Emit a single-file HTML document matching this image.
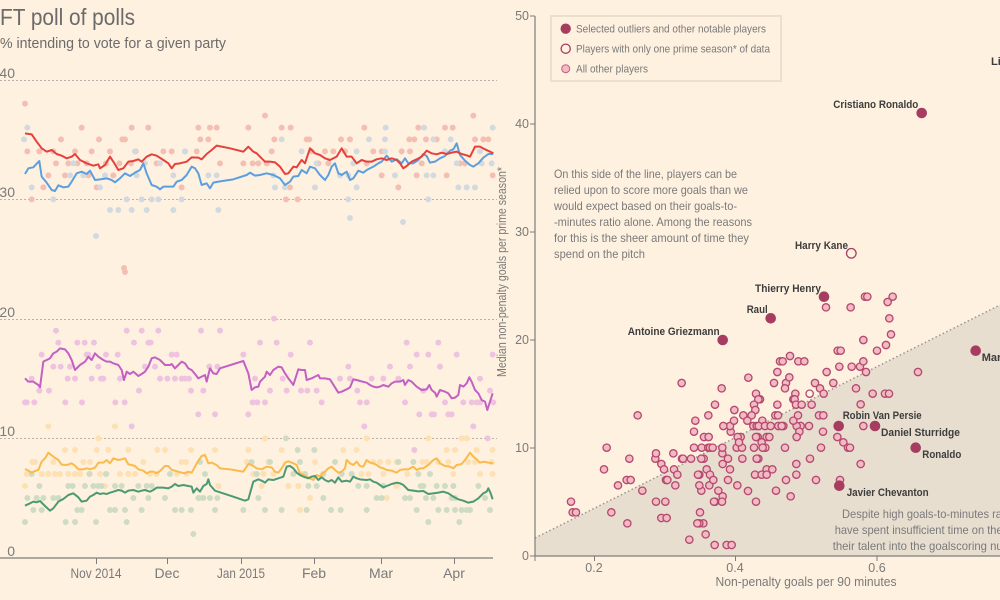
<!DOCTYPE html>
<html><head><meta charset="utf-8"><style>
html,body{margin:0;padding:0;background:#fff1e0;}
svg{display:block;font-family:"Liberation Sans",sans-serif;}
.g{fill:#7a7a7a;}
.lb{font-weight:bold;fill:#3d3d3d;font-size:11px;}
.sc circle{fill:#f2bac4;stroke:#b44a6c;stroke-width:4;}
.nt{fill:#a63c60;}
</style></head><body>
<svg width="1000" height="600" viewBox="0 0 1000 600" xmlns="http://www.w3.org/2000/svg">
<rect width="1000" height="600" fill="#fff1e0"/>

<!-- ============ LEFT CHART ============ -->
<text x="0" y="25" font-size="23" fill="#6b6b6b" textLength="135" lengthAdjust="spacingAndGlyphs">FT poll of polls</text>
<text x="0" y="48" font-size="15" fill="#6b6b6b" textLength="226" lengthAdjust="spacingAndGlyphs">% intending to vote for a given party</text>

<g stroke="#b9b2a8" stroke-width="1" stroke-dasharray="2,2">
<line x1="0" y1="80.5" x2="497" y2="80.5"/>
<line x1="0" y1="199.5" x2="497" y2="199.5"/>
<line x1="0" y1="319.5" x2="497" y2="319.5"/>
<line x1="0" y1="438.5" x2="497" y2="438.5"/>
</g>
<g class="g" font-size="14" text-anchor="end">
<text x="15" y="78">40</text>
<text x="15" y="197">30</text>
<text x="15" y="317">20</text>
<text x="15" y="436">10</text>
<text x="15" y="556">0</text>
</g>

<!-- dots: zoom1 coords -->
<g transform="scale(0.33333)" fill="none" stroke-linecap="round" stroke-width="18">
<path stroke="#f5beb3" d="M75 311h0M795 347h0M1420 347h0M245 383h0M395 383h0M445 383h0M595 383h0M630 383h0M650 383h0M745 383h0M845 383h0M872 383h0M1093 383h0M1255 383h0M1335 383h0M1358 383h0M183 418h0M297 418h0M367 418h0M375 418h0M601 418h0M625 418h0M823 418h0M920 418h0M928 418h0M1023 418h0M1050 418h0M1228 418h0M1243 418h0M1278 418h0M1310 418h0M1425 418h0M1450 418h0M1465 418h0M82 454h0M118 454h0M160 454h0M225 454h0M275 454h0M330 454h0M407 454h0M490 454h0M515 454h0M555 454h0M590 454h0M815 454h0M935 454h0M975 454h0M1000 454h0M1035 454h0M1120 454h0M1145 454h0M1205 454h0M1230 454h0M168 490h0M205 490h0M232 490h0M260 490h0M318 490h0M358 490h0M393 490h0M470 490h0M660 490h0M730 490h0M758 490h0M775 490h0M800 490h0M955 490h0M985 490h0M1100 490h0M1265 490h0M1380 490h0M1395 490h0M145 526h0M195 526h0M265 526h0M340 526h0M1145 526h0M1250 526h0M1340 526h0M1478 526h0M130 562h0M290 562h0M545 562h0M870 562h0M1195 562h0M95 598h0M858 598h0M893 598h0M372 804h0M375 816h0"/>
<path stroke="#d2dae0" d="M82 383h0M1157 383h0M1272 383h0M1478 383h0M72 418h0M845 418h0M1107 418h0M1155 418h0M1300 418h0M1352 418h0M405 454h0M555 454h0M905 454h0M1070 454h0M1155 454h0M1335 454h0M1440 454h0M220 490h0M435 490h0M480 490h0M950 490h0M1060 490h0M1370 490h0M1445 490h0M1475 490h0M210 526h0M250 526h0M315 526h0M410 526h0M520 526h0M625 526h0M650 526h0M820 526h0M1020 526h0M1045 526h0M1185 526h0M1280 526h0M1300 526h0M95 562h0M300 562h0M825 562h0M855 562h0M945 562h0M1070 562h0M1375 562h0M1400 562h0M1425 562h0M160 598h0M380 598h0M425 598h0M455 598h0M475 598h0M545 598h0M1045 598h0M1285 598h0M330 630h0M355 630h0M395 630h0M440 630h0M520 630h0M655 630h0M288 708h0M1050 654h0M1209 666h0"/>
</g>
<!-- dots: zoom2 coords -->
<g transform="translate(0,300) scale(0.33333)" fill="none" stroke-linecap="round" stroke-width="18">
<path stroke="#eec3df" d="M822 56h0M168 92h0M380 92h0M425 92h0M475 92h0M603 92h0M660 92h0M175 128h0M232 128h0M254 128h0M282 128h0M402 128h0M445 128h0M452 128h0M780 128h0M830 128h0M930 128h0M1220 128h0M1315 128h0M125 164h0M260 164h0M265 164h0M318 164h0M353 164h0M515 164h0M530 164h0M730 164h0M872 164h0M1250 164h0M1285 164h0M1370 164h0M1478 164h0M160 200h0M182 200h0M210 200h0M295 200h0M435 200h0M465 200h0M628 200h0M652 200h0M1045 200h0M1170 200h0M1230 200h0M1320 200h0M95 236h0M203 236h0M225 236h0M275 236h0M303 236h0M310 236h0M360 236h0M480 236h0M502 236h0M525 236h0M545 236h0M555 236h0M567 236h0M765 236h0M848 236h0M1020 236h0M1050 236h0M1115 236h0M1150 236h0M1195 236h0M1440 236h0M118 272h0M147 272h0M417 272h0M573 272h0M610 272h0M810 272h0M860 272h0M903 272h0M922 272h0M950 272h0M1072 272h0M1270 272h0M1470 272h0M75 307h0M80 307h0M103 307h0M196 307h0M246 307h0M346 307h0M374 307h0M758 307h0M772 307h0M795 307h0M965 307h0M1080 307h0M1100 307h0M1215 307h0M1335 307h0M1390 307h0M1415 307h0M1430 307h0M1440 307h0M1480 307h0M595 343h0M645 343h0M745 343h0M1258 343h0M1295 343h0M1302 343h0M1345 343h0M1355 343h0M395 379h0M1093 379h0M1420 379h0M1463 415h0M1243 450h0"/>
<path stroke="#fde0b3" d="M145 379h0M345 379h0M295 415h0M795 415h0M1100 415h0M1285 415h0M1385 415h0M1400 415h0M195 450h0M225 450h0M290 450h0M325 450h0M385 450h0M472 450h0M495 450h0M573 450h0M645 450h0M745 450h0M845 450h0M1030 450h0M1070 450h0M1340 450h0M1365 450h0M1430 450h0M1478 450h0M97 486h0M105 486h0M160 486h0M250 486h0M270 486h0M430 486h0M545 486h0M558 486h0M740 486h0M805 486h0M945 486h0M1120 486h0M1140 486h0M1165 486h0M1190 486h0M1268 486h0M1280 486h0M1315 486h0M1345 486h0M1405 486h0M1425 486h0M1475 486h0M80 522h0M125 522h0M145 522h0M165 522h0M180 522h0M205 522h0M225 522h0M240 522h0M270 522h0M300 522h0M320 522h0M360 522h0M385 522h0M405 522h0M450 522h0M470 522h0M530 522h0M560 522h0M760 522h0M790 522h0M820 522h0M905 522h0M1055 522h0M1085 522h0M1105 522h0M1150 522h0M1222 522h0M1360 522h0M1440 522h0M1478 522h0M75 558h0M315 558h0M455 558h0M655 558h0M785 558h0M865 558h0M895 558h0M1190 558h0M600 594h0M930 594h0M1160 594h0M900 630h0"/>
<path stroke="#cfdcc4" d="M858 415h0M893 450h0M943 450h0M600 486h0M755 486h0M810 486h0M900 486h0M1005 486h0M1195 486h0M1240 486h0M95 522h0M268 522h0M318 522h0M510 522h0M615 522h0M770 522h0M880 522h0M915 522h0M970 522h0M1025 522h0M1055 522h0M1255 522h0M1290 522h0M118 558h0M205 558h0M218 558h0M255 558h0M280 558h0M295 558h0M305 558h0M345 558h0M365 558h0M415 558h0M440 558h0M455 558h0M925 558h0M950 558h0M1075 558h0M1100 558h0M1150 558h0M1262 558h0M1270 558h0M1310 558h0M1335 558h0M1360 558h0M1435 558h0M82 594h0M110 594h0M130 594h0M160 594h0M175 594h0M400 594h0M445 594h0M495 594h0M595 594h0M610 594h0M630 594h0M652 594h0M775 594h0M970 594h0M1130 594h0M1145 594h0M1215 594h0M1230 594h0M1278 594h0M1300 594h0M1355 594h0M1365 594h0M1455 594h0M100 630h0M125 630h0M232 630h0M245 630h0M330 630h0M345 630h0M375 630h0M425 630h0M525 630h0M545 630h0M573 630h0M645 630h0M730 630h0M795 630h0M845 630h0M920 630h0M993 630h0M1022 630h0M1100 630h0M1250 630h0M1315 630h0M1340 630h0M1365 630h0M1385 630h0M1400 630h0M1410 630h0M1470 630h0M75 666h0M197 666h0M225 666h0M288 666h0M380 666h0M1285 666h0M1378 666h0M580 702h0"/>
</g>

<!-- lines zoom1 -->
<g transform="scale(0.33333)" fill="none" stroke-width="6" stroke-linejoin="round">
<polyline stroke="#5b9fe0" points="75,522 85,505 100,502 118,483 125,530 140,548 155,570 165,573 175,556 190,562 205,560 215,545 230,520 245,515 260,522 270,512 285,540 300,538 320,535 335,540 345,547 360,535 375,520 390,528 405,518 420,510 430,490 440,520 455,555 470,560 480,568 490,560 505,560 520,560 530,545 545,540 560,525 575,500 585,505 595,520 605,555 620,550 630,565 640,548 655,545 700,538 740,525 750,518 765,527 780,525 800,520 820,525 840,535 855,555 870,545 880,530 895,528 905,510 920,520 930,500 945,505 960,525 975,540 985,525 995,500 1005,490 1015,520 1025,525 1040,515 1050,540 1060,535 1075,512 1090,518 1100,510 1120,500 1135,490 1145,485 1160,467 1175,485 1190,478 1205,490 1215,475 1225,490 1240,490 1255,480 1270,462 1280,468 1290,488 1305,485 1320,475 1335,468 1350,452 1360,448 1370,430 1380,465 1395,482 1410,495 1420,500 1435,490 1450,473 1465,462 1480,462"/>
<polyline stroke="#e5403c" points="75,400 95,403 110,425 125,445 140,455 155,450 170,462 185,467 200,475 215,470 225,462 240,480 260,490 280,497 295,493 300,505 315,495 330,470 340,485 355,510 370,505 385,485 400,483 415,478 425,485 440,470 455,463 470,467 490,480 505,490 515,505 525,492 540,490 560,485 575,472 595,473 605,478 620,462 635,450 650,437 690,445 730,455 745,440 760,455 770,460 780,470 795,485 810,485 825,487 840,500 855,522 865,520 880,500 890,502 905,480 915,490 930,445 945,460 960,465 975,475 990,480 1010,470 1025,445 1040,470 1055,470 1070,490 1085,480 1100,485 1115,485 1130,478 1145,475 1160,480 1175,475 1190,480 1200,490 1210,505 1220,498 1235,485 1250,478 1265,470 1280,452 1295,460 1310,463 1325,458 1340,462 1355,458 1370,455 1385,462 1400,466 1410,470 1425,440 1440,440 1455,448 1470,455 1480,460"/>
</g>
<!-- lines zoom2 -->
<g transform="translate(0,300) scale(0.33333)" fill="none" stroke-width="6" stroke-linejoin="round">
<polyline stroke="#c45fc4" points="75,235 85,245 100,245 115,255 120,262 130,185 140,180 150,175 160,160 170,155 180,145 195,148 205,160 215,180 225,210 240,195 255,185 265,170 275,180 285,160 295,170 310,180 320,185 330,185 340,190 355,195 365,210 372,240 380,215 390,222 400,215 415,228 425,222 435,215 445,200 455,175 465,172 480,180 495,195 510,195 515,192 525,205 535,195 545,185 555,190 565,205 575,210 585,222 595,235 605,230 615,225 620,245 630,205 640,220 650,222 660,205 730,183 745,220 755,270 765,262 775,260 780,245 795,230 800,215 810,225 820,210 835,200 845,202 855,220 865,235 875,248 880,255 895,208 905,210 915,210 920,240 935,235 945,230 955,225 960,235 975,235 990,238 1005,262 1015,278 1025,275 1040,268 1050,262 1060,238 1070,240 1080,243 1100,248 1110,255 1120,260 1130,262 1140,260 1150,255 1165,260 1175,250 1185,245 1200,245 1210,240 1215,255 1225,240 1235,245 1250,260 1265,270 1280,268 1288,255 1295,270 1305,278 1310,290 1320,270 1335,275 1345,280 1355,295 1365,293 1375,285 1380,255 1390,260 1400,250 1408,232 1415,245 1425,270 1435,280 1445,300 1455,305 1462,330 1470,305 1478,280"/>
<polyline stroke="#fbba4c" points="75,507 85,512 95,518 105,513 115,510 125,485 135,475 145,458 160,470 175,480 185,494 200,495 215,490 225,497 235,508 250,508 260,505 270,508 285,503 295,488 310,488 320,480 330,490 340,475 355,480 365,478 375,475 385,493 395,495 405,498 415,508 430,512 440,520 450,515 460,515 470,520 480,513 495,498 505,498 515,510 525,512 535,515 545,518 555,520 565,515 575,518 585,500 595,482 605,468 615,465 625,490 635,488 650,495 660,505 690,508 730,515 745,492 755,495 770,505 785,508 800,500 815,502 825,515 835,518 845,505 855,488 865,484 880,490 890,495 900,520 910,525 920,530 930,535 940,540 950,525 960,530 965,522 975,515 985,505 995,500 1005,510 1015,518 1025,515 1035,505 1040,480 1050,490 1060,495 1070,485 1080,498 1090,500 1100,480 1110,488 1120,490 1130,495 1140,502 1150,505 1160,510 1175,512 1190,518 1200,510 1210,508 1225,508 1240,500 1250,510 1260,505 1270,505 1285,495 1300,480 1310,475 1320,490 1335,498 1350,500 1360,505 1370,495 1385,492 1395,480 1410,458 1420,470 1430,478 1440,488 1450,485 1465,488 1480,490"/>
<polyline stroke="#4b9a72" points="75,617 90,610 100,605 110,607 120,603 135,618 150,632 160,625 175,605 190,597 205,585 220,580 235,592 245,605 260,602 270,590 280,585 290,578 300,582 310,580 320,582 330,578 340,575 355,570 365,572 375,578 385,572 400,570 415,575 425,572 435,570 450,575 460,570 470,563 490,563 505,565 515,560 525,552 535,558 550,555 565,558 575,560 580,578 590,565 600,575 610,558 620,552 625,538 630,555 645,572 660,577 700,590 735,602 745,598 760,545 775,538 785,542 795,548 805,538 820,540 835,535 850,530 860,500 870,498 880,505 890,518 900,525 910,530 925,535 935,530 945,528 955,540 965,532 975,540 985,545 995,540 1005,548 1015,532 1025,545 1040,542 1050,545 1060,530 1070,535 1080,538 1100,540 1110,538 1120,545 1130,548 1140,555 1150,562 1160,558 1175,552 1190,548 1200,550 1210,555 1225,570 1240,572 1255,574 1270,573 1285,582 1300,580 1315,578 1330,575 1345,580 1360,590 1375,598 1390,602 1405,608 1420,605 1435,595 1450,580 1460,575 1465,565 1472,580 1478,598"/>
</g>

<line x1="0" y1="558" x2="493" y2="558" stroke="#7d7d7d" stroke-width="1.2"/>
<g stroke="#7d7d7d" stroke-width="1">
<line x1="96.5" y1="558" x2="96.5" y2="564"/><line x1="167.5" y1="558" x2="167.5" y2="564"/><line x1="241.5" y1="558" x2="241.5" y2="564"/><line x1="314.5" y1="558" x2="314.5" y2="564"/><line x1="381.5" y1="558" x2="381.5" y2="564"/><line x1="454.5" y1="558" x2="454.5" y2="564"/>
</g>
<g class="g" font-size="14" text-anchor="middle">
<text x="96" y="578" textLength="51" lengthAdjust="spacingAndGlyphs">Nov 2014</text>
<text x="167" y="578">Dec</text>
<text x="241" y="578" textLength="48" lengthAdjust="spacingAndGlyphs">Jan 2015</text>
<text x="314" y="578">Feb</text>
<text x="381" y="578">Mar</text>
<text x="454" y="578">Apr</text>
</g>

<!-- ============ RIGHT CHART ============ -->
<polygon points="535,538 1000,305 1000,556 535,556" fill="#e8ded0"/>
<line x1="535" y1="538" x2="1000" y2="305" stroke="#9c968e" stroke-width="1.5" stroke-dasharray="1.5,2.5"/>

<text transform="translate(506,272) rotate(-90)" font-size="12.5" class="g" text-anchor="middle" textLength="210" lengthAdjust="spacingAndGlyphs">Median non-penalty goals per prime season*</text>

<line x1="535" y1="16" x2="535" y2="556" stroke="#7d7d7d" stroke-width="1.2"/>
<line x1="535" y1="556" x2="1000" y2="556" stroke="#7d7d7d" stroke-width="1.2"/>
<g stroke="#7d7d7d" stroke-width="1">
<line x1="530" y1="16" x2="535" y2="16"/><line x1="530" y1="124" x2="535" y2="124"/><line x1="530" y1="232" x2="535" y2="232"/><line x1="530" y1="340" x2="535" y2="340"/><line x1="530" y1="448" x2="535" y2="448"/><line x1="530" y1="556" x2="535" y2="556"/>
<line x1="535" y1="556" x2="535" y2="561"/><line x1="594.5" y1="556" x2="594.5" y2="561"/><line x1="735.5" y1="556" x2="735.5" y2="561"/><line x1="877" y1="556" x2="877" y2="561"/>
</g>
<g class="g" font-size="12.5" text-anchor="end">
<text x="529" y="20">50</text><text x="529" y="128">40</text><text x="529" y="236">30</text><text x="529" y="344">20</text><text x="529" y="452">10</text><text x="529" y="560">0</text>
</g>
<g class="g" font-size="12.5" text-anchor="middle">
<text x="594" y="572">0.2</text><text x="735" y="572">0.4</text><text x="877" y="572">0.6</text>
</g>
<text x="806" y="586" class="g" font-size="12.5" text-anchor="middle" textLength="181" lengthAdjust="spacingAndGlyphs">Non-penalty goals per 90 minutes</text>

<!-- legend -->
<rect x="551" y="16" width="230" height="65" fill="none" stroke="#ebdfcd" stroke-width="2"/>
<circle cx="565.7" cy="28.7" r="5.2" class="nt"/>
<circle cx="565.7" cy="48.7" r="4.6" fill="#fff1e0" stroke="#a63c60" stroke-width="1.3"/>
<circle cx="565.7" cy="68.7" r="4" fill="#f2bac4" stroke="#c0607e" stroke-width="1"/>
<g class="g" font-size="11">
<text x="576" y="32.5" textLength="190" lengthAdjust="spacingAndGlyphs">Selected outliers and other notable players</text>
<text x="576" y="52.5" textLength="194" lengthAdjust="spacingAndGlyphs">Players with only one prime season* of data</text>
<text x="576" y="72.5" textLength="72" lengthAdjust="spacingAndGlyphs">All other players</text>
</g>

<!-- annotations -->
<g class="g" font-size="12">
<text x="554" y="178" textLength="183" lengthAdjust="spacingAndGlyphs">On this side of the line, players can be</text>
<text x="554" y="194" textLength="194" lengthAdjust="spacingAndGlyphs">relied upon to score more goals than we</text>
<text x="554" y="210" textLength="183" lengthAdjust="spacingAndGlyphs">would expect based on their goals-to-</text>
<text x="554" y="226" textLength="198" lengthAdjust="spacingAndGlyphs">-minutes ratio alone. Among the reasons</text>
<text x="554" y="242" textLength="195" lengthAdjust="spacingAndGlyphs">for this is the sheer amount of time they</text>
<text x="554" y="258" textLength="91" lengthAdjust="spacingAndGlyphs">spend on the pitch</text>
<text x="842" y="518" textLength="160" lengthAdjust="spacingAndGlyphs">Despite high goals-to-minutes ra</text>
<text x="834.7" y="534" textLength="168" lengthAdjust="spacingAndGlyphs">have spent insufficient time on the</text>
<text x="832.7" y="550" textLength="170" lengthAdjust="spacingAndGlyphs">their talent into the goalscoring nu</text>
</g>

<!-- scatter (zoom4 coords) -->
<g class="sc" transform="translate(500,290) scale(0.33333)">
<circle cx="1095" cy="20" r="11"/><circle cx="1102" cy="20" r="11"/><circle cx="1178" cy="20" r="11"/><circle cx="1163" cy="36" r="11"/><circle cx="978" cy="52" r="11"/><circle cx="1052" cy="52" r="11"/><circle cx="1168" cy="85" r="11"/><circle cx="1173" cy="133" r="11"/><circle cx="1090" cy="150" r="11"/><circle cx="1158" cy="165" r="11"/><circle cx="1131" cy="182" r="11"/><circle cx="1013" cy="182" r="11"/><circle cx="1022" cy="182" r="11"/><circle cx="1018" cy="230" r="11"/><circle cx="1055" cy="230" r="11"/><circle cx="1080" cy="230" r="11"/><circle cx="1090" cy="214" r="11"/><circle cx="1098" cy="246" r="11"/><circle cx="980" cy="246" r="11"/><circle cx="1000" cy="279" r="11"/><circle cx="945" cy="279" r="11"/><circle cx="960" cy="295" r="11"/><circle cx="971" cy="311" r="11"/><circle cx="929" cy="311" r="11" style="fill:#fff5ec"/><circle cx="1068" cy="295" r="11"/><circle cx="1118" cy="311" r="11"/><circle cx="1155" cy="311" r="11"/><circle cx="1167" cy="311" r="11"/><circle cx="1254" cy="246" r="11"/><circle cx="1082" cy="343" r="11"/><circle cx="957" cy="376" r="11"/><circle cx="970" cy="376" r="11"/><circle cx="1090" cy="408" r="11"/><circle cx="1012" cy="441" r="11"/><circle cx="1030" cy="457" r="11"/><circle cx="1044" cy="473" r="11"/><circle cx="1050" cy="473" r="11"/><circle cx="969" cy="425" r="11"/><circle cx="963" cy="473" r="11"/><circle cx="1082" cy="522" r="11"/><circle cx="1020" cy="570" r="11"/><circle cx="948" cy="570" r="11"/>
<circle cx="870" cy="198" r="11"/><circle cx="840" cy="214" r="11"/><circle cx="848" cy="214" r="11"/><circle cx="895" cy="214" r="11"/><circle cx="913" cy="214" r="11"/><circle cx="745" cy="263" r="11"/><circle cx="832" cy="246" r="11"/><circle cx="858" cy="279" r="11"/><circle cx="822" cy="279" r="11"/><circle cx="855" cy="295" r="11"/><circle cx="868" cy="262" r="11"/><circle cx="768" cy="311" r="11"/><circle cx="780" cy="328" r="11"/><circle cx="775" cy="328" r="11"/><circle cx="886" cy="311" r="11"/><circle cx="880" cy="328" r="11"/><circle cx="884" cy="328" r="11"/><circle cx="888" cy="344" r="11"/><circle cx="905" cy="344" r="11"/><circle cx="935" cy="344" r="11"/><circle cx="832" cy="344" r="11"/><circle cx="762" cy="344" r="11"/><circle cx="766" cy="360" r="11"/><circle cx="703" cy="360" r="11"/><circle cx="645" cy="344" r="11"/><circle cx="625" cy="376" r="11"/><circle cx="586" cy="392" r="11"/><circle cx="582" cy="425" r="11"/><circle cx="545" cy="279" r="11"/><circle cx="665" cy="295" r="11"/><circle cx="413" cy="376" r="11"/><circle cx="320" cy="473" r="11"/><circle cx="312" cy="538" r="11"/><circle cx="388" cy="506" r="11"/><circle cx="354" cy="586" r="11"/><circle cx="380" cy="570" r="11"/><circle cx="392" cy="570" r="11"/><circle cx="427" cy="602" r="11"/><circle cx="466" cy="506" r="11"/><circle cx="468" cy="490" r="11"/><circle cx="484" cy="522" r="11"/><circle cx="492" cy="538" r="11"/><circle cx="520" cy="490" r="11"/><circle cx="522" cy="538" r="11"/><circle cx="532" cy="554" r="11"/><circle cx="546" cy="506" r="11"/><circle cx="573" cy="506" r="11"/><circle cx="549" cy="506" r="11"/><circle cx="498" cy="570" r="11"/><circle cx="502" cy="570" r="11"/><circle cx="526" cy="586" r="11"/><circle cx="468" cy="635" r="11"/><circle cx="496" cy="635" r="11"/><circle cx="484" cy="684" r="11"/><circle cx="500" cy="684" r="11"/><circle cx="382" cy="700" r="11"/><circle cx="334" cy="667" r="11"/><circle cx="213" cy="635" r="11"/><circle cx="218" cy="667" r="11"/><circle cx="228" cy="667" r="11"/>
<circle cx="582" cy="473" r="11"/><circle cx="605" cy="473" r="11"/><circle cx="612" cy="441" r="11"/><circle cx="626" cy="441" r="11"/><circle cx="625" cy="473" r="11"/><circle cx="630" cy="473" r="11"/><circle cx="638" cy="473" r="11"/><circle cx="611" cy="506" r="11"/><circle cx="604" cy="506" r="11"/><circle cx="620" cy="538" r="11"/><circle cx="598" cy="554" r="11"/><circle cx="594" cy="554" r="11"/><circle cx="630" cy="554" r="11"/><circle cx="628" cy="586" r="11"/><circle cx="640" cy="570" r="11"/><circle cx="604" cy="602" r="11"/><circle cx="598" cy="586" r="11"/><circle cx="600" cy="667" r="11"/><circle cx="610" cy="700" r="11"/><circle cx="598" cy="700" r="11"/><circle cx="592" cy="700" r="11"/><circle cx="617" cy="733" r="11"/><circle cx="568" cy="749" r="11"/><circle cx="644" cy="765" r="11"/><circle cx="680" cy="765" r="11"/><circle cx="695" cy="765" r="11"/><circle cx="655" cy="602" r="11"/><circle cx="668" cy="619" r="11"/><circle cx="666" cy="635" r="11"/><circle cx="645" cy="635" r="11"/><circle cx="642" cy="635" r="11"/><circle cx="668" cy="522" r="11"/><circle cx="684" cy="506" r="11"/><circle cx="690" cy="538" r="11"/><circle cx="684" cy="570" r="11"/><circle cx="712" cy="586" r="11"/><circle cx="744" cy="603" r="11"/><circle cx="768" cy="635" r="11"/><circle cx="727" cy="506" r="11"/><circle cx="710" cy="473" r="11"/><circle cx="726" cy="473" r="11"/><circle cx="722" cy="441" r="11"/><circle cx="713" cy="441" r="11"/><circle cx="717" cy="457" r="11"/><circle cx="692" cy="425" r="11"/><circle cx="690" cy="408" r="11"/><circle cx="702" cy="392" r="11"/><circle cx="670" cy="408" r="11"/><circle cx="667" cy="490" r="11"/><circle cx="667" cy="473" r="11"/><circle cx="730" cy="376" r="11"/><circle cx="755" cy="376" r="11"/><circle cx="742" cy="392" r="11"/><circle cx="787" cy="392" r="11"/><circle cx="760" cy="408" r="11"/><circle cx="770" cy="408" r="11"/><circle cx="776" cy="408" r="11"/><circle cx="795" cy="408" r="11"/><circle cx="812" cy="408" r="11"/><circle cx="835" cy="408" r="11"/><circle cx="850" cy="408" r="11"/><circle cx="773" cy="441" r="11"/><circle cx="768" cy="441" r="11"/><circle cx="800" cy="441" r="11"/><circle cx="808" cy="441" r="11"/><circle cx="785" cy="457" r="11"/><circle cx="796" cy="473" r="11"/><circle cx="788" cy="473" r="11"/><circle cx="762" cy="473" r="11"/><circle cx="775" cy="506" r="11"/><circle cx="770" cy="506" r="11"/><circle cx="855" cy="473" r="11"/><circle cx="800" cy="538" r="11"/><circle cx="817" cy="538" r="11"/><circle cx="765" cy="554" r="11"/><circle cx="785" cy="554" r="11"/><circle cx="800" cy="554" r="11"/><circle cx="858" cy="570" r="11"/><circle cx="828" cy="602" r="11"/><circle cx="872" cy="619" r="11"/><circle cx="889" cy="522" r="11"/><circle cx="889" cy="554" r="11"/><circle cx="930" cy="506" r="11"/><circle cx="927" cy="408" r="11"/><circle cx="902" cy="408" r="11"/><circle cx="890" cy="408" r="11"/><circle cx="898" cy="425" r="11"/><circle cx="890" cy="441" r="11"/><circle cx="880" cy="392" r="11"/><circle cx="894" cy="376" r="11"/><circle cx="826" cy="376" r="11"/><circle cx="834" cy="376" r="11"/><circle cx="845" cy="408" r="11"/>
</g>

<!-- notable players -->
<circle cx="921.7" cy="113" r="5.3" class="nt"/>
<circle cx="824" cy="296.7" r="5.3" class="nt"/>
<circle cx="770.7" cy="318.3" r="5.3" class="nt"/>
<circle cx="722.7" cy="340" r="5.3" class="nt"/>
<circle cx="975.7" cy="350.7" r="5.3" class="nt"/>
<circle cx="838.7" cy="426" r="5.3" class="nt"/>
<circle cx="875" cy="426" r="5.3" class="nt"/>
<circle cx="915.7" cy="447.7" r="5.3" class="nt"/>
<circle cx="839.3" cy="485.7" r="5.3" class="nt"/>
<circle cx="851.3" cy="253.3" r="4.8" fill="#fff1e0" stroke="#a63c60" stroke-width="1.3"/>

<g class="lb">
<text x="833.3" y="108" textLength="85" lengthAdjust="spacingAndGlyphs">Cristiano Ronaldo</text>
<text x="991" y="65">Li</text>
<text x="795" y="249" textLength="53" lengthAdjust="spacingAndGlyphs">Harry Kane</text>
<text x="755" y="292" textLength="66" lengthAdjust="spacingAndGlyphs">Thierry Henry</text>
<text x="746.7" y="313" textLength="21" lengthAdjust="spacingAndGlyphs">Raul</text>
<text x="627.7" y="335" textLength="92" lengthAdjust="spacingAndGlyphs">Antoine Griezmann</text>
<text x="981.7" y="361">Mar</text>
<text x="842.7" y="419" textLength="79" lengthAdjust="spacingAndGlyphs">Robin Van Persie</text>
<text x="881" y="436" textLength="79" lengthAdjust="spacingAndGlyphs">Daniel Sturridge</text>
<text x="922.3" y="458" textLength="39" lengthAdjust="spacingAndGlyphs">Ronaldo</text>
<text x="846.7" y="496" textLength="82" lengthAdjust="spacingAndGlyphs">Javier Chevanton</text>
</g>
</svg>
</body></html>
